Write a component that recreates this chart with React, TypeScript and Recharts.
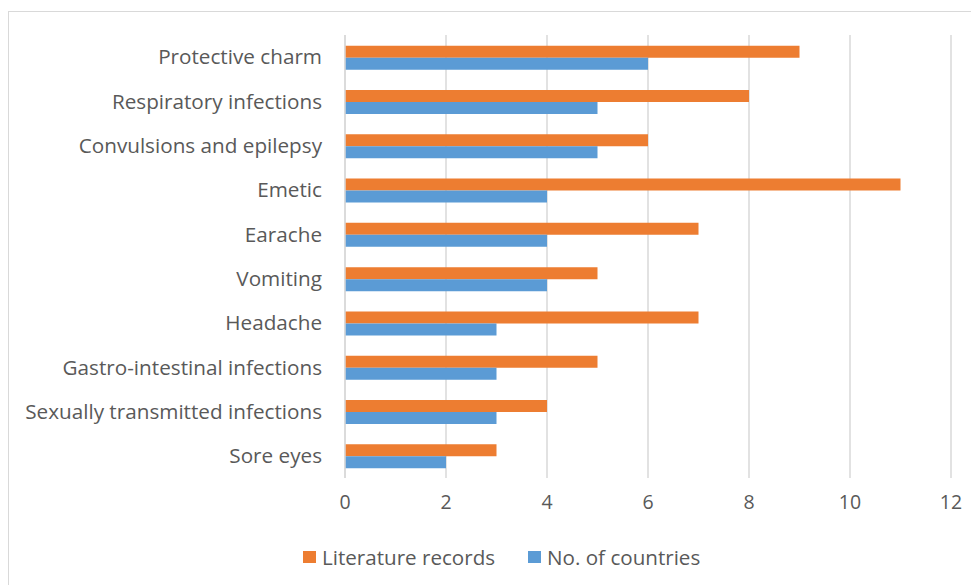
import { Bar, BarChart, CartesianGrid, XAxis, YAxis } from "recharts";

const categories = [
  "Protective charm",
  "Respiratory infections",
  "Convulsions and epilepsy",
  "Emetic",
  "Earache",
  "Vomiting",
  "Headache",
  "Gastro-intestinal infections",
  "Sexually transmitted infections",
  "Sore eyes",
];
const literatureRecords = [9, 8, 6, 11, 7, 5, 7, 5, 4, 3];
const noOfCountries = [6, 5, 5, 4, 4, 4, 3, 3, 3, 2];
const xTicks = [0, 2, 4, 6, 8, 10, 12];

const series = [
  { key: "literature", label: "Literature records", color: "#ED7D31" },
  { key: "countries", label: "No. of countries", color: "#5B9BD5" },
];

const FONT = "'Open Sans', 'Liberation Sans', sans-serif";
const TEXT = "#595959";
const GRID = "#d9d9d9";

export default function App() {
  const rows = categories.map((name, i) => ({
    name,
    literature: literatureRecords[i],
    countries: noOfCountries[i],
  }));

  return (
    <div
      style={{
        position: "absolute",
        left: 0,
        top: 0,
        width: 971,
        height: 585,
        background: "#fff",
        overflow: "hidden",
        fontFamily: FONT,
      }}
    >
      <div
        style={{
          position: "absolute",
          left: 8,
          top: 11,
          width: 1000,
          height: 700,
          border: `1.5px solid ${GRID}`,
        }}
      />
      <BarChart
        width={971}
        height={585}
        data={rows}
        layout="vertical"
        margin={{ top: 35, right: 20, bottom: 67, left: 0 }}
        barCategoryGap="24%"
        barGap={0}
        style={{ position: "absolute", left: 0, top: 0 }}
      >
        <CartesianGrid horizontal={false} stroke={GRID} strokeWidth={1.5} />
        <XAxis
          type="number"
          domain={[0, 12]}
          ticks={xTicks}
          axisLine={false}
          tickLine={false}
          tickSize={0}
          tickMargin={17}
          height={40}
          tick={{ fontSize: 19.5, fill: TEXT, fontFamily: FONT }}
        />
        <YAxis
          type="category"
          dataKey="name"
          width={345}
          axisLine={{ stroke: GRID, strokeWidth: 1.5 }}
          tickLine={false}
          tickSize={0}
          tickMargin={23}
          interval={0}
          tick={{ fontSize: 20.7, fill: TEXT, fontFamily: FONT }}
        />
        {series.map((s) => (
          <Bar
            key={s.key}
            dataKey={s.key}
            name={s.label}
            fill={s.color}
            isAnimationActive={false}
          />
        ))}
      </BarChart>
      <div
        style={{
          position: "absolute",
          left: 303,
          top: 543,
          display: "flex",
          gap: 33,
          fontSize: 20.6,
          color: TEXT,
          lineHeight: "28px",
        }}
      >
        {series.map((s) => (
          <div key={s.key} style={{ display: "flex", alignItems: "center", gap: 6 }}>
            <span style={{ width: 13, height: 12, background: s.color, display: "inline-block" }} />
            <span>{s.label}</span>
          </div>
        ))}
      </div>
    </div>
  );
}
